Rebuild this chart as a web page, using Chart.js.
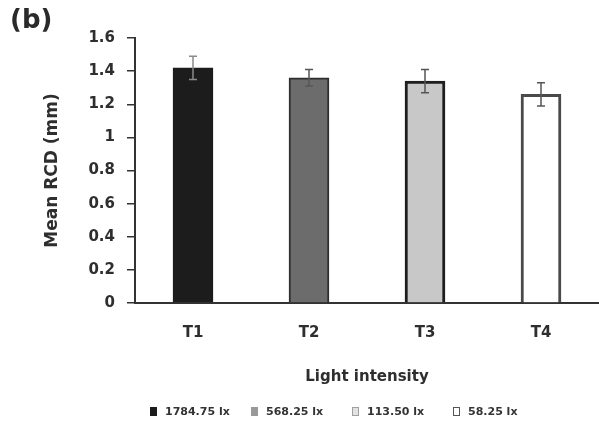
<!DOCTYPE html>
<html>
<head>
<meta charset="utf-8">
<script src="https://cdn.jsdelivr.net/npm/chart.js@4.4.1/dist/chart.umd.min.js"></script>
<style>
  html, body { margin: 0; padding: 0; background: #fff; }
  #wrap { position: relative; width: 599px; height: 426px; }
  #panel { position: absolute; left: 10px; top: 4px; font: bold 26px "DejaVu Sans", sans-serif; color: #2a2a2a; }
  #legend { position: absolute; left: 150px; top: 405px; display: flex; font: bold 11px "DejaVu Sans", sans-serif; color: #333; line-height: 13px; }
  #legend .it { display: flex; align-items: center; flex: 0 0 101px; }
  #legend .bx { width: 7px; height: 9px; margin-right: 8px; box-sizing: border-box; }
</style>
</head>
<body>
<div id="wrap">
  <canvas id="c" width="599" height="426"></canvas>
  <div id="panel">(b)</div>
  <div id="legend"></div>
</div>
<script>
const categories = ["T1", "T2", "T3", "T4"];
const legendLabels = ["1784.75 lx", "568.25 lx", "113.50 lx", "58.25 lx"];
const meanRCD = [1.42, 1.36, 1.34, 1.26];
const errRCD = [0.07, 0.05, 0.07, 0.07];
const yTicks = [0, 0.2, 0.4, 0.6, 0.8, 1, 1.2, 1.4, 1.6];

const fills = ["#1c1c1c", "#6c6c6c", "#c8c8c8", "#ffffff"];
const borders = ["#1c1c1c", "#2e2e2e", "#1e1e1e", "#4a4a4a"];
const borderW = [1, 2, 3, 3];
const legendFills = ["#1c1c1c", "#999999", "#e2e2e2", "#ffffff"];
const legendBorders = ["#1c1c1c", "#999999", "#a0a0a0", "#555555"];

const lg = document.getElementById('legend');
legendLabels.forEach((t, i) => {
  const it = document.createElement('div'); it.className = 'it';
  const b = document.createElement('div'); b.className = 'bx';
  b.style.background = legendFills[i]; b.style.border = '1px solid ' + legendBorders[i];
  const s = document.createElement('span'); s.textContent = t;
  it.appendChild(b); it.appendChild(s); lg.appendChild(it);
});

const errorBars = {
  id: 'errorBars',
  afterDatasetsDraw(chart) {
    const ctx = chart.ctx, y = chart.scales.y;
    const meta = chart.getDatasetMeta(0);
    ctx.save();
    meta.data.forEach((bar, i) => {
      const top = y.getPixelForValue(meanRCD[i] + errRCD[i]);
      const bot = y.getPixelForValue(meanRCD[i] - errRCD[i]);
      ctx.strokeStyle = i === 0 ? '#8a8a8a' : '#555';
      ctx.lineWidth = 1.5;
      ctx.beginPath();
      ctx.moveTo(bar.x, top); ctx.lineTo(bar.x, bot);
      ctx.moveTo(bar.x - 4, top); ctx.lineTo(bar.x + 4, top);
      ctx.moveTo(bar.x - 4, bot); ctx.lineTo(bar.x + 4, bot);
      ctx.stroke();
    });
    ctx.restore();
  }
};

const FONT = "'DejaVu Sans', sans-serif";
new Chart(document.getElementById('c'), {
  type: 'bar',
  data: {
    labels: categories,
    datasets: [{
      data: meanRCD,
      backgroundColor: fills,
      borderColor: borders,
      borderWidth: borderW,
      borderSkipped: 'bottom',
      barThickness: 40
    }]
  },
  options: {
    responsive: false,
    animation: false,
    events: [],
    layout: { padding: { top: 38, right: 0, bottom: 40, left: 0 } },
    plugins: { legend: { display: false }, tooltip: { enabled: false } },
    scales: {
      x: {
        ticks: {
          font: { family: FONT, size: 15, weight: 'bold' },
          color: '#2e2e2e',
          padding: 21,
          maxRotation: 0
        },
        grid: { display: false, drawTicks: false },
        border: { display: true, color: '#333', width: 2 },
        title: {
          display: true,
          text: 'Light intensity',
          font: { family: FONT, size: 15, weight: 'bold' },
          color: '#2e2e2e',
          padding: { top: 5, bottom: 0 }
        }
      },
      y: {
        min: 0,
        max: 1.6,
        afterBuildTicks(scale) { scale.ticks = yTicks.map(v => ({ value: v })); },
        afterFit(scale) { scale.width = 135; },
        ticks: {
          callback: (v) => String(v),
          font: { family: FONT, size: 15, weight: 'bold' },
          color: '#2e2e2e',
          padding: 12
        },
        grid: { drawOnChartArea: false, drawTicks: true, tickLength: 8, color: '#333', lineWidth: 1.5 },
        border: { display: true, color: '#333', width: 2 },
        title: {
          display: true,
          text: 'Mean RCD (mm)',
          font: { family: FONT, size: 17, weight: 'bold' },
          color: '#2e2e2e',
          padding: { top: 42, bottom: 0 }
        }
      }
    }
  },
  plugins: [errorBars]
});
</script>
</body>
</html>
